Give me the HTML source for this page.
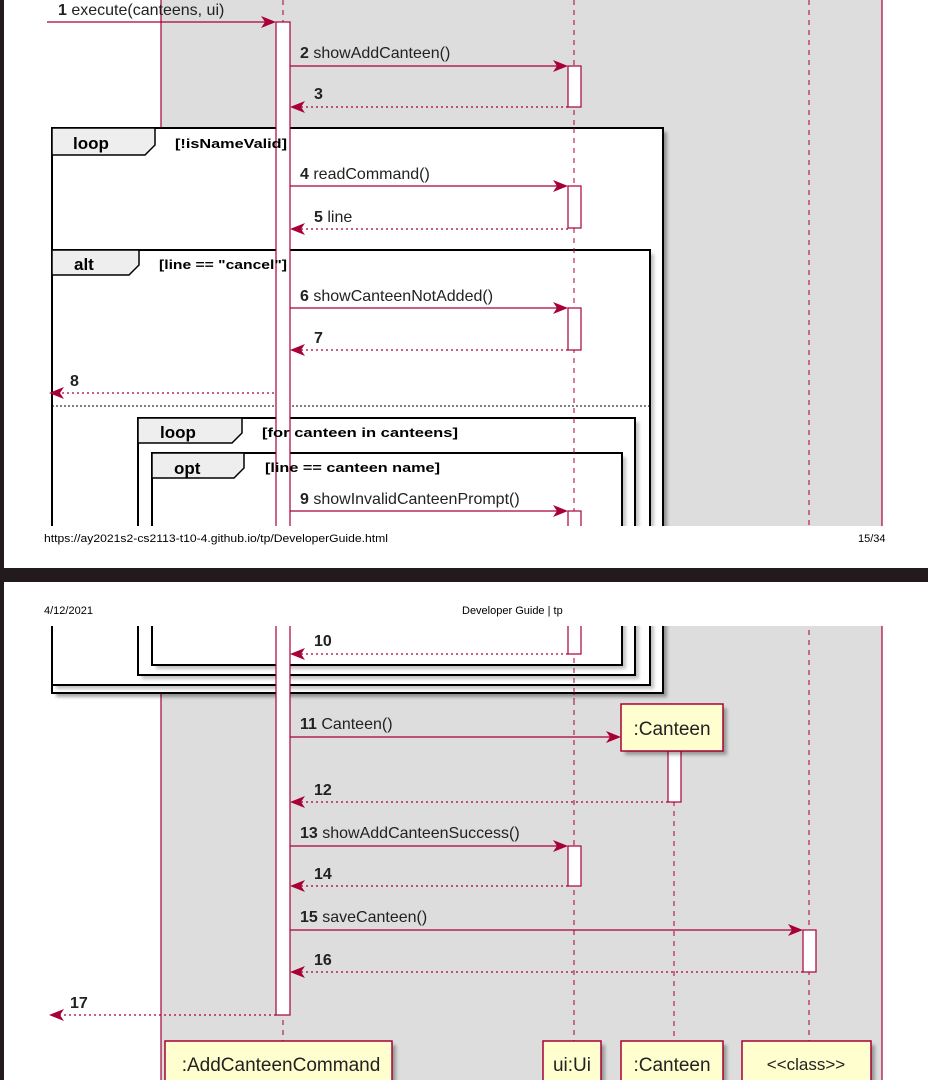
<!DOCTYPE html>
<html><head><meta charset="utf-8"><style>
html,body{margin:0;padding:0;background:#fff;}
svg{display:block;font-family:"Liberation Sans",sans-serif;}
</style></head><body>
<svg width="928" height="1080" viewBox="0 0 928 1080" xmlns="http://www.w3.org/2000/svg">
<defs>
<filter id="sh" x="-5%" y="-5%" width="115%" height="115%"><feGaussianBlur stdDeviation="1.5"/></filter>
</defs>
<rect width="928" height="1080" fill="#fff"/>
<rect x="161" y="-2" width="721" height="1090" fill="#DDDDDD" stroke="#A80036" stroke-width="1.2"/>
<g stroke="#A80036" stroke-width="1" stroke-dasharray="5,5">
<line x1="283" y1="0" x2="283" y2="1041"/>
<line x1="574" y1="0" x2="574" y2="1041"/>
<line x1="674" y1="751" x2="674" y2="1041"/>
<line x1="809" y1="0" x2="809" y2="1041"/>
</g>
<g fill="#000" opacity="0.35" filter="url(#sh)">
<rect x="56" y="132" width="611" height="565"/>
</g>
<rect x="52" y="128" width="611" height="565" fill="#fff" stroke="#000" stroke-width="2"/>
<rect x="56" y="254" width="598" height="435" fill="#888" opacity="0.5" filter="url(#sh)"/>
<rect x="52" y="250" width="598" height="435" fill="#fff" stroke="#000" stroke-width="2"/>
<rect x="142" y="422" width="497" height="257" fill="#888" opacity="0.5" filter="url(#sh)"/>
<rect x="138" y="418" width="497" height="257" fill="#fff" stroke="#000" stroke-width="2"/>
<rect x="156" y="457" width="470" height="212" fill="#888" opacity="0.5" filter="url(#sh)"/>
<rect x="152" y="453" width="470" height="212" fill="#fff" stroke="#000" stroke-width="2"/>
<g fill="#EEEEEE" stroke="#000" stroke-width="1.5">
<path d="M52,128 L155,128 L155,145 L145,155 L52,155 Z"/>
<path d="M52,250 L139,250 L139,265 L129,275 L52,275 Z"/>
<path d="M138,418 L242,418 L242,433 L232,443 L138,443 Z"/>
<path d="M152,453 L244,453 L244,468 L234,478 L152,478 Z"/>
</g>
<line x1="52" y1="406" x2="650" y2="406" stroke="#000" stroke-width="1" stroke-dasharray="2,2"/>
<g font-weight="bold" font-size="17" fill="#000">
<text x="73" y="149">loop</text>
<text x="74" y="270">alt</text>
<text x="160" y="438">loop</text>
<text x="174" y="474">opt</text>
</g>
<g stroke="#A80036" stroke-width="1" stroke-dasharray="5,5">
<line x1="574" y1="128" x2="574" y2="700"/>
</g>
<g fill="#fff" stroke="#A80036" stroke-width="1.2">
<rect x="276" y="22" width="14" height="993"/>
<rect x="568" y="66" width="13" height="41"/>
<rect x="568" y="186" width="13" height="42"/>
<rect x="568" y="308" width="13" height="42"/>
<rect x="568" y="511" width="13" height="143"/>
<rect x="668" y="751" width="13" height="51"/>
<rect x="568" y="846" width="13" height="40"/>
<rect x="803" y="930" width="13" height="42"/>
</g>
<g font-weight="bold" font-size="13" fill="#000">
<text x="175" y="148" textLength="112" lengthAdjust="spacingAndGlyphs">[!isNameValid]</text>
<text x="159" y="269" textLength="128" lengthAdjust="spacingAndGlyphs">[line == "cancel"]</text>
<text x="262" y="437" textLength="196" lengthAdjust="spacingAndGlyphs">[for canteen in canteens]</text>
<text x="265" y="472" textLength="175" lengthAdjust="spacingAndGlyphs">[line == canteen name]</text>
</g>
<g stroke="#A80036" stroke-width="1.2" fill="none">
<line x1="47" y1="22" x2="274" y2="22"/>
<line x1="290" y1="66" x2="566" y2="66"/>
<line x1="568" y1="107" x2="292" y2="107" stroke-dasharray="2,3"/>
<line x1="290" y1="186" x2="566" y2="186"/>
<line x1="568" y1="229" x2="292" y2="229" stroke-dasharray="2,3"/>
<line x1="290" y1="308" x2="566" y2="308"/>
<line x1="568" y1="350" x2="292" y2="350" stroke-dasharray="2,3"/>
<line x1="274" y1="393" x2="52" y2="393" stroke-dasharray="2,3"/>
<line x1="290" y1="511" x2="566" y2="511"/>
<line x1="568" y1="654" x2="292" y2="654" stroke-dasharray="2,3"/>
<line x1="290" y1="737" x2="619" y2="737"/>
<line x1="668" y1="802" x2="292" y2="802" stroke-dasharray="2,3"/>
<line x1="290" y1="846" x2="566" y2="846"/>
<line x1="568" y1="886" x2="292" y2="886" stroke-dasharray="2,3"/>
<line x1="290" y1="930" x2="801" y2="930"/>
<line x1="803" y1="972" x2="292" y2="972" stroke-dasharray="2,3"/>
<line x1="276" y1="1015" x2="52" y2="1015" stroke-dasharray="2,3"/>
</g>
<g fill="#A80036">
<path d="M276,22 l-15,-6 l4,6 l-4,6 z"/>
<path d="M568,66 l-15,-6 l4,6 l-4,6 z"/>
<path d="M290,107 l15,-6 l-4,6 l4,6 z"/>
<path d="M568,186 l-15,-6 l4,6 l-4,6 z"/>
<path d="M290,229 l15,-6 l-4,6 l4,6 z"/>
<path d="M568,308 l-15,-6 l4,6 l-4,6 z"/>
<path d="M290,350 l15,-6 l-4,6 l4,6 z"/>
<path d="M49,393 l15,-6 l-4,6 l4,6 z"/>
<path d="M568,511 l-15,-6 l4,6 l-4,6 z"/>
<path d="M290,654 l15,-6 l-4,6 l4,6 z"/>
<path d="M621,737 l-15,-6 l4,6 l-4,6 z"/>
<path d="M290,802 l15,-6 l-4,6 l4,6 z"/>
<path d="M568,846 l-15,-6 l4,6 l-4,6 z"/>
<path d="M290,886 l15,-6 l-4,6 l4,6 z"/>
<path d="M803,930 l-15,-6 l4,6 l-4,6 z"/>
<path d="M290,972 l15,-6 l-4,6 l4,6 z"/>
<path d="M49,1015 l15,-6 l-4,6 l4,6 z"/>
</g>
<g font-size="16" fill="#222">
<text x="58" y="15"><tspan font-weight="bold">1</tspan> execute(canteens, ui)</text>
<text x="300" y="58"><tspan font-weight="bold">2</tspan> showAddCanteen()</text>
<text x="314" y="99" font-weight="bold">3</text>
<text x="300" y="179"><tspan font-weight="bold">4</tspan> readCommand()</text>
<text x="314" y="222"><tspan font-weight="bold">5</tspan> line</text>
<text x="300" y="301"><tspan font-weight="bold">6</tspan> showCanteenNotAdded()</text>
<text x="314" y="343" font-weight="bold">7</text>
<text x="70" y="386" font-weight="bold">8</text>
<text x="300" y="504"><tspan font-weight="bold">9</tspan> showInvalidCanteenPrompt()</text>
<text x="314" y="646" font-weight="bold">10</text>
<text x="300" y="729"><tspan font-weight="bold">11</tspan> Canteen()</text>
<text x="314" y="795" font-weight="bold">12</text>
<text x="300" y="838"><tspan font-weight="bold">13</tspan> showAddCanteenSuccess()</text>
<text x="314" y="879" font-weight="bold">14</text>
<text x="300" y="922"><tspan font-weight="bold">15</tspan> saveCanteen()</text>
<text x="314" y="965" font-weight="bold">16</text>
<text x="70" y="1008" font-weight="bold">17</text>
</g>
<g fill="#000" opacity="0.3" filter="url(#sh)">
<rect x="625" y="708" width="102" height="47"/>
<rect x="169" y="1045" width="227" height="40"/>
<rect x="547" y="1045" width="58" height="40"/>
<rect x="625" y="1045" width="102" height="40"/>
<rect x="746" y="1045" width="129" height="40"/>
</g>
<g fill="#FEFECE" stroke="#A80036" stroke-width="1.5">
<rect x="621" y="704" width="102" height="47"/>
<rect x="165" y="1041" width="227" height="45"/>
<rect x="543" y="1041" width="58" height="45"/>
<rect x="621" y="1041" width="102" height="45"/>
<rect x="742" y="1041" width="129" height="45"/>
</g>
<g font-size="19" fill="#222" text-anchor="middle">
<text x="672" y="735">:Canteen</text>
<text x="281" y="1071">:AddCanteenCommand</text>
<text x="572" y="1071">ui:Ui</text>
<text x="672" y="1071">:Canteen</text>
<text x="806" y="1070" font-size="17">&lt;&lt;class&gt;&gt;</text>
</g>
<rect x="0" y="526" width="928" height="42" fill="#fff"/>
<rect x="0" y="568" width="928" height="14" fill="#231a1d"/>
<rect x="0" y="582" width="928" height="44" fill="#fff"/>
<g font-size="11" fill="#000">
<text x="44" y="542" textLength="344" lengthAdjust="spacingAndGlyphs">https://ay2021s2-cs2113-t10-4.github.io/tp/DeveloperGuide.html</text>
<text x="858" y="542">15/34</text>
<text x="44" y="614">4/12/2021</text>
<text x="462" y="614">Developer Guide | tp</text>
</g>
<rect x="0" y="0" width="4" height="1080" fill="#231a1d"/>
</svg>
</body></html>
